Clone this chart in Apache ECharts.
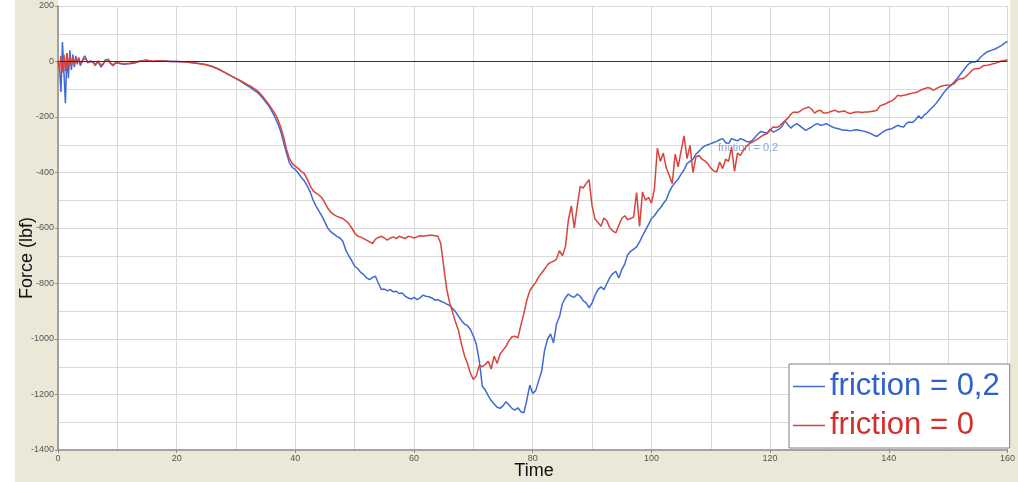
<!DOCTYPE html>
<html>
<head>
<meta charset="utf-8">
<style>
  html, body { margin: 0; padding: 0; background: #ffffff; }
  #chart { width: 1018px; height: 482px; }
</style>
<script src="https://cdn.jsdelivr.net/npm/echarts@6/dist/echarts.min.js"></script>
</head>
<body>
<div id="chart"></div>
<script>
// Contact force history for two friction coefficients.
const seriesNames = ['friction = 0,2', 'friction = 0'];
const xTicks = { min: 0, max: 160, step: 20 };
const yTicks = { min: -1400, max: 200, step: 200 };

// Impact transient, t = 0 .. 10, sampled every 0.25
const blueEarly = [0, -20, -110, 70, -40, -150, 30, -60, 40, -30,
  25, -20, 20, -10, 15, -15, -5, 10, 20, 10,
  -5, -10, 0, 5, -5, -15, -10, 0, -10, -20,
  -15, -5, 5, 12, 8, -5, -12, -15, -10, -5, -8];
const redEarly = [0, -30, 20, -40, 25, -35, 30, -20, 20, -15,
  15, -10, 10, -5, 12, -8, 0, 8, 15, 8,
  -3, -8, 2, 4, -3, -12, -8, 2, -8, -15,
  -12, -3, 6, 12, 6, -4, -10, -12, -8, -4, -6];

// Settling phase, t = 11 .. 29, sampled every 1
const blueSettle = [-10, -8, -5, 2, 4, 0, 3, 2, 0, 0, -1, -3, -5, -8, -12, -18, -27, -38, -50];
const redSettle = [-8, -6, -3, 3, 5, 1, 3, 2, 0, 0, -1, -3, -5, -8, -12, -18, -27, -38, -50];

// Loading phase, t = 30 .. 160, sampled every 0.5 (one row = 5 time units)
const blueMain = [
  -62, -68, -74, -82, -88, -95, -103, -110, -120, -132,
  -146, -160, -178, -198, -222, -250, -290, -330, -365, -382,
  -390, -402, -418, -430, -448, -470, -500, -522, -540, -558,
  -580, -602, -614, -622, -630, -636, -648, -680, -700, -718,
  -738, -746, -760, -768, -780, -786, -778, -774, -800, -822,
  -820, -826, -822, -830, -828, -836, -834, -846, -852, -856,
  -850, -858, -852, -842, -846, -848, -852, -860, -858, -864,
  -868, -874, -880, -890, -902, -918, -934, -946, -952, -966,
  -990, -1020, -1080, -1170, -1184, -1204, -1222, -1234, -1246, -1250,
  -1240, -1226, -1238, -1250, -1256, -1248, -1262, -1266, -1220, -1166,
  -1196, -1186, -1150, -1116, -1040, -1000, -982, -1014, -946, -920,
  -872, -852, -838, -846, -850, -838, -846, -862, -870, -888,
  -870, -842, -822, -812, -822, -800, -778, -764, -756, -780,
  -750, -730, -696, -684, -676, -668, -650, -628, -608, -588,
  -566, -556, -540, -528, -512, -498, -470, -450, -436, -424,
  -406, -390, -368, -360, -352, -334, -324, -312, -304, -300,
  -296, -292, -288, -282, -278, -292, -296, -278, -282, -286,
  -278, -282, -288, -290, -284, -272, -260, -252, -256, -258,
  -244, -254, -250, -244, -234, -214, -228, -240, -230, -224,
  -232, -240, -248, -242, -236, -228, -224, -230, -228, -224,
  -230, -236, -240, -242, -246, -248, -248, -250, -248, -246,
  -248, -250, -252, -256, -260, -266, -270, -262, -254, -248,
  -244, -242, -236, -230, -234, -236, -222, -218, -220, -210,
  -196, -206, -192, -184, -172, -162, -150, -136, -120, -106,
  -94, -86, -74, -62, -48, -34, -20, -8, -2, -2,
  4, 16, 26, 34, 38, 42, 46, 52, 58, 66,
  72];
const redMain = [
  -61, -66, -72, -78, -84, -90, -97, -104, -114, -126,
  -140, -154, -170, -186, -206, -234, -270, -316, -350, -368,
  -378, -386, -396, -404, -424, -448, -466, -474, -482, -492,
  -510, -530, -544, -552, -558, -562, -566, -574, -584, -600,
  -618, -630, -632, -638, -644, -650, -656, -640, -634, -630,
  -636, -644, -636, -632, -638, -630, -634, -638, -630, -632,
  -636, -632, -628, -630, -628, -626, -626, -628, -630, -656,
  -740, -820, -870, -904, -940, -970, -1020, -1060, -1088, -1124,
  -1146, -1132, -1094, -1100, -1092, -1080, -1108, -1062, -1088, -1054,
  -1040, -1026, -1006, -992, -990, -996, -950, -908, -860, -826,
  -810, -796, -776, -762, -748, -732, -724, -720, -712, -682,
  -700, -668, -572, -520, -600, -520, -450, -456, -440, -426,
  -520, -568, -580, -594, -564, -574, -600, -610, -618, -590,
  -566, -556, -570, -566, -560, -472, -594, -470, -500, -490,
  -510, -460, -312, -360, -330, -384, -410, -440, -334, -380,
  -322, -268, -350, -302, -400, -344, -338, -352, -358, -368,
  -384, -394, -398, -362, -386, -352, -360, -308, -396, -330,
  -338, -320, -306, -296, -290, -284, -278, -270, -264, -260,
  -248, -236, -238, -234, -224, -214, -204, -190, -182, -184,
  -180, -172, -168, -164, -172, -186, -178, -176, -186, -186,
  -182, -178, -176, -182, -180, -178, -184, -188, -184, -182,
  -182, -184, -182, -182, -180, -178, -176, -160, -156, -152,
  -146, -142, -134, -122, -124, -122, -120, -116, -114, -112,
  -108, -102, -98, -94, -96, -104, -98, -92, -88, -86,
  -86, -84, -80, -68, -62, -62, -54, -44, -32, -26,
  -26, -22, -14, -14, -12, -8, -6, -2, 2, 4,
  6];

// Pair each sampled value with its time stamp
function segment(start, step, values) {
  return values.map((v, i) => [start + i * step, v]);
}
const blueData = [].concat(segment(0, 0.25, blueEarly), segment(11, 1, blueSettle), segment(30, 0.5, blueMain));
const redData = [].concat(segment(0, 0.25, redEarly), segment(11, 1, redSettle), segment(30, 0.5, redMain));

const BLUE = '#4169D4';
const RED = '#D8433B';
const FRAME = '#EBE8D8';
const GRID_LINE = '#D9D9D9';
const AXIS_LINE = '#8C8C8C';
const LABEL = {
  color: '#555555', fontSize: 9, fontFamily: 'Liberation Sans, Arial, sans-serif',
  formatter: (v) => String(v)
};

const chart = echarts.init(document.getElementById('chart'), null, { renderer: 'canvas' });
chart.setOption({
  animation: false,
  backgroundColor: '#ffffff',
  grid: { left: 58, right: 8, top: 6, bottom: 32, show: true, backgroundColor: '#ffffff', borderWidth: 0 },
  graphic: [
    { type: 'rect', z: -5, silent: true, shape: { x: 15, y: 0, width: 43, height: 482 }, style: { fill: FRAME } },
    { type: 'rect', z: -5, silent: true, shape: { x: 58, y: 450, width: 960, height: 32 }, style: { fill: FRAME } },
    { type: 'rect', z: -5, silent: true, shape: { x: 1010, y: 0, width: 8, height: 450 }, style: { fill: FRAME } },
    { type: 'text', z: 1, silent: true, x: 534, y: 471,
      style: { text: 'Time', fill: '#111111', fontSize: 18, fontFamily: 'Liberation Sans, Arial, sans-serif', align: 'center', verticalAlign: 'middle' } },
    { type: 'text', z: 1, silent: true, x: 27, y: 258, rotation: Math.PI / 2,
      style: { text: 'Force (lbf)', fill: '#111111', fontSize: 18, fontFamily: 'Liberation Sans, Arial, sans-serif', align: 'center', verticalAlign: 'middle' } },
    { type: 'text', z: 1, silent: true, x: 718, y: 148,
      style: { text: 'friction = 0,2', fill: '#8AA4E2', fontSize: 11, fontFamily: 'Liberation Sans, Arial, sans-serif', align: 'left', verticalAlign: 'middle' } }
  ],
  legend: {
    left: 789, top: 364,
    orient: 'vertical',
    backgroundColor: '#ffffff',
    borderColor: '#808080',
    borderWidth: 1,
    borderRadius: 0,
    padding: [3, 10, 3, 4],
    itemGap: 0,
    itemWidth: 32,
    itemHeight: 1.5,
    icon: 'rect',
    selectedMode: false,
    textStyle: { fontSize: 31, lineHeight: 39, fontFamily: 'Liberation Sans, Arial, sans-serif' },
    data: [
      { name: seriesNames[0], textStyle: { color: '#2F5FCB' } },
      { name: seriesNames[1], textStyle: { color: '#D3302B' } }
    ]
  },
  xAxis: {
    type: 'value',
    min: xTicks.min, max: xTicks.max, interval: xTicks.step,
    axisLine: { show: true, onZero: false, lineStyle: { color: AXIS_LINE, width: 1.5 } },
    axisTick: { show: true, length: 3, lineStyle: { color: AXIS_LINE } },
    axisLabel: Object.assign({ margin: 4 }, LABEL),
    splitLine: { show: true, lineStyle: { color: GRID_LINE, width: 1 } },
    minorTick: { show: false, splitNumber: 2 },
    minorSplitLine: { show: true, lineStyle: { color: GRID_LINE, width: 1 } }
  },
  yAxis: {
    type: 'value',
    min: yTicks.min, max: yTicks.max, interval: yTicks.step,
    axisLine: { show: true, onZero: false, lineStyle: { color: AXIS_LINE, width: 1.5 } },
    axisTick: { show: true, length: 3, lineStyle: { color: AXIS_LINE } },
    axisLabel: Object.assign({ margin: 4 }, LABEL),
    splitLine: { show: true, lineStyle: { color: GRID_LINE, width: 1 } },
    minorTick: { show: false, splitNumber: 2 },
    minorSplitLine: { show: true, lineStyle: { color: GRID_LINE, width: 1 } }
  },
  series: [
    {
      name: seriesNames[0], type: 'line', data: blueData,
      showSymbol: false, symbol: 'none',
      lineStyle: { color: BLUE, width: 1.5 }, itemStyle: { color: BLUE },
      markLine: {
        silent: true, symbol: 'none', label: { show: false },
        lineStyle: { color: '#333333', width: 1, type: 'solid' },
        data: [{ yAxis: 0 }]
      },
      z: 3
    },
    {
      name: seriesNames[1], type: 'line', data: redData,
      showSymbol: false, symbol: 'none',
      lineStyle: { color: RED, width: 1.5 }, itemStyle: { color: RED },
      z: 4
    }
  ]
});
</script>
</body>
</html>
